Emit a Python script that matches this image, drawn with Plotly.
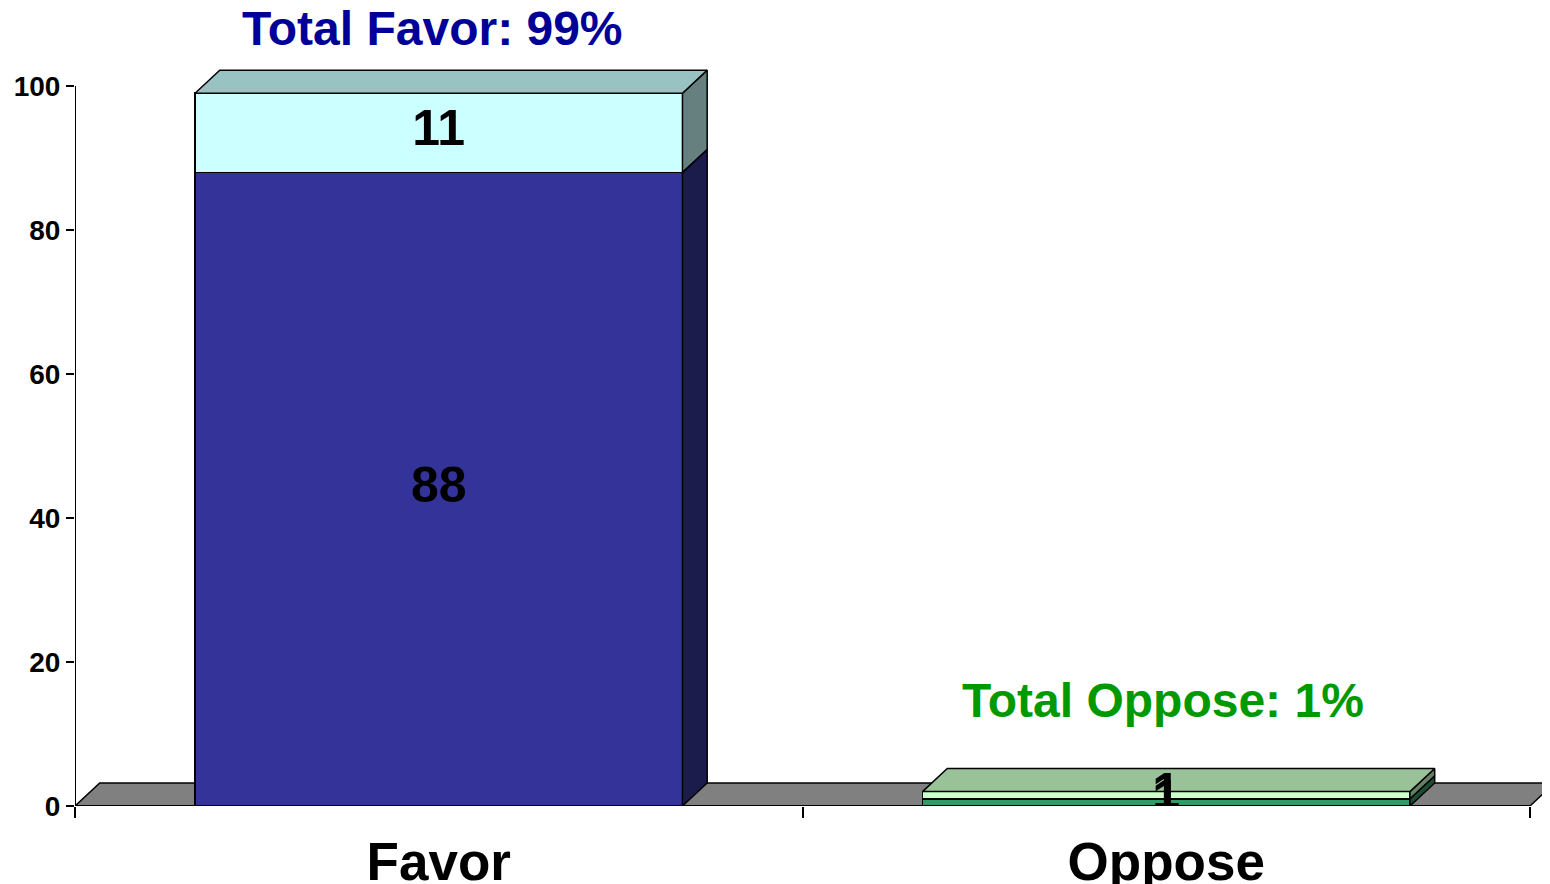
import plotly.graph_objects as go

# data
categories = ["Favor", "Oppose"]
strong = [88, 1]          # bottom segment
somewhat = [11, 1]        # top segment
totals = [99, 1]
total_names = ["Total Favor", "Total Oppose"]

# styling
FONT = "Liberation Sans, Arial, sans-serif"
front_bottom = ["#333399", "#339966"]
front_top = ["#CCFFFF", "#CCFFCC"]
side_bottom = ["#1C1C4C", "#1A4D33"]
side_top = ["#668080", "#668066"]
top_face = ["#99C2C2", "#99C299"]
total_colors = ["#000099", "#009900"]

xc = [0.5, 1.5]
bw = 0.67            # front face width (data units)
dx, dy = 0.034, 3.2  # depth offsets for the fake 3D
label_pos = [(0.492, 1.029), (1.4955, 0.140)]  # total labels (x data, y paper)

fig = go.Figure()

# front faces
fig.add_trace(go.Bar(
    x=xc, y=strong, width=bw,
    marker=dict(color=front_bottom, line=dict(color="black", width=1.5)),
    hoverinfo="skip", showlegend=False
))
fig.add_trace(go.Bar(
    x=xc, y=somewhat, width=bw,
    marker=dict(color=front_top, line=dict(color="black", width=1.5)),
    hoverinfo="skip", showlegend=False
))


def face(xs, ys, color):
    fig.add_trace(go.Scatter(
        x=xs + [xs[0]], y=ys + [ys[0]],
        mode="lines", fill="toself", fillcolor=color,
        line=dict(color="black", width=1.5),
        hoverinfo="skip", showlegend=False
    ))


# side and top faces, built from the same values
for i, x in enumerate(xc):
    x0, x1 = x - bw / 2, x + bw / 2
    b = 0
    for val, col in ((strong[i], side_bottom[i]), (somewhat[i], side_top[i])):
        t = b + val
        face([x1, x1 + dx, x1 + dx, x1], [b, b + dy, t + dy, t], col)
        b = t
    face([x0, x0 + dx, x1 + dx, x1], [b, b + dy, b + dy, b], top_face[i])

# segment value labels
lab_x, lab_y, lab_t = [], [], []
for i, x in enumerate(xc):
    lab_x += [x, x]
    lab_y += [strong[i] / 2, strong[i] + somewhat[i] / 2]
    lab_t += [str(strong[i]), str(somewhat[i])]
fig.add_trace(go.Scatter(
    x=lab_x, y=lab_y, text=lab_t, mode="text",
    textfont=dict(family=FONT, size=50, color="black", weight="bold"),
    hoverinfo="skip", showlegend=False
))

# totals
for i, (lx, ly) in enumerate(label_pos):
    fig.add_annotation(
        x=lx, y=ly, xref="x", yref="paper", yanchor="middle",
        text=f"{total_names[i]}: {totals[i]}%", showarrow=False,
        font=dict(family=FONT, size=48, color=total_colors[i], weight="bold")
    )

# floor and axis lines
fig.add_shape(
    type="path", xref="x", yref="y", layer="below",
    path=f"M 0,0 L {dx},{dy} L {2 + dx},{dy} L 2,0 Z",
    fillcolor="#808080", line=dict(color="black", width=1.5)
)
fig.add_shape(type="line", xref="x", yref="y", x0=0, y0=0, x1=0, y1=100,
              line=dict(color="black", width=2))
fig.add_shape(type="line", xref="x", yref="y", x0=0, y0=0, x1=2, y1=0,
              line=dict(color="black", width=2))

# the page adds an 8px body margin, so margins are shifted to compensate
fig.update_layout(
    width=1550, height=884,
    barmode="stack",
    plot_bgcolor="white", paper_bgcolor="white",
    margin=dict(l=67, r=8, t=42, b=86),
    showlegend=False,
)
fig.update_xaxes(
    range=[0, 2.0275], showgrid=False, zeroline=False, showline=False,
    automargin=False,
    tickmode="array", tickvals=xc, ticktext=categories, ticks="",
    ticklabelstandoff=20,
    tickfont=dict(family=FONT, size=53, color="black", weight="bold"),
    minor=dict(tickmode="array", tickvals=[0, 1, 2], ticks="outside",
               ticklen=11, tickwidth=2, tickcolor="black"),
)
fig.update_yaxes(
    range=[0, 105], showgrid=False, zeroline=False, showline=False,
    automargin=False,
    tickmode="array", tickvals=[0, 20, 40, 60, 80, 100],
    ticks="outside", ticklen=8, tickwidth=2, tickcolor="black",
    tickfont=dict(family=FONT, size=28, color="black", weight="bold"),
)

fig.write_html("out.html")
